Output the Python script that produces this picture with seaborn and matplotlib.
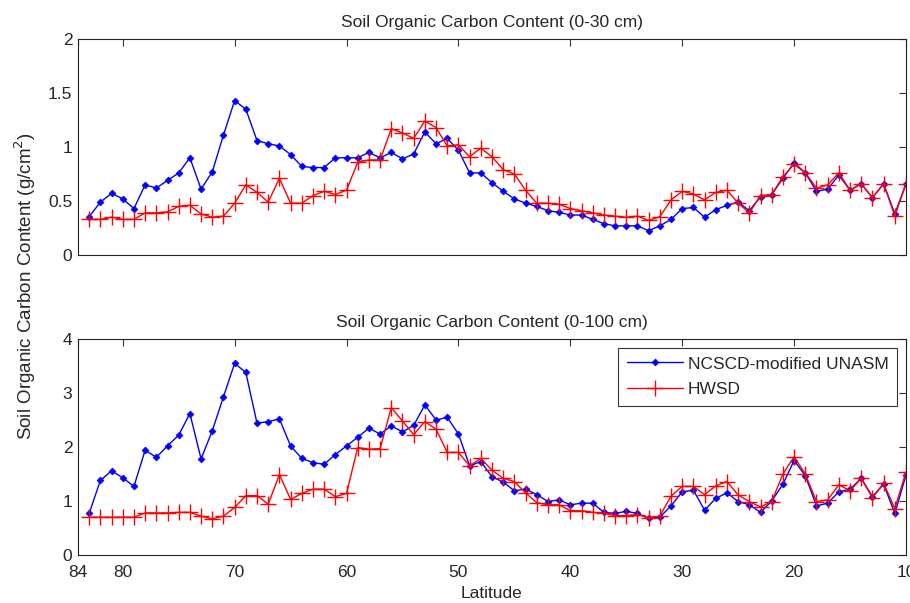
import numpy as np
import pandas as pd
import matplotlib
matplotlib.use("Agg")
import matplotlib.pyplot as plt
import seaborn as sns

latitude = list(range(83, 9, -1))

ncscd_30 = [0.355, 0.49, 0.57, 0.52, 0.43, 0.65, 0.62, 0.69, 0.76, 0.90,
            0.61, 0.77, 1.11, 1.43, 1.35, 1.06, 1.03, 1.01, 0.93, 0.82,
            0.81, 0.81, 0.90, 0.90, 0.90, 0.95, 0.90, 0.95, 0.89, 0.935,
            1.14, 1.03, 1.08, 0.97, 0.76, 0.76, 0.67, 0.59, 0.52, 0.48,
            0.45, 0.41, 0.395, 0.37, 0.37, 0.33, 0.29, 0.27, 0.27, 0.27,
            0.225, 0.27, 0.33, 0.43, 0.44, 0.35, 0.42, 0.46, 0.49, 0.41,
            0.54, 0.56, 0.71, 0.855, 0.76, 0.59, 0.61, 0.74, 0.60, 0.66,
            0.53, 0.66, 0.38, 0.66]
hwsd_30 = [0.33, 0.33, 0.35, 0.33, 0.33, 0.39, 0.39, 0.40, 0.45, 0.46,
           0.38, 0.35, 0.36, 0.48, 0.65, 0.58, 0.49, 0.71, 0.48, 0.48,
           0.55, 0.59, 0.56, 0.60, 0.86, 0.88, 0.88, 1.17, 1.13, 1.08,
           1.24, 1.18, 1.01, 1.02, 0.91, 0.99, 0.91, 0.79, 0.75, 0.60,
           0.48, 0.48, 0.47, 0.43, 0.41, 0.39, 0.37, 0.36, 0.35, 0.36,
           0.32, 0.355, 0.51, 0.59, 0.565, 0.51, 0.58, 0.60, 0.48, 0.39,
           0.55, 0.56, 0.725, 0.84, 0.76, 0.62, 0.65, 0.76, 0.60, 0.66,
           0.53, 0.66, 0.36, 0.66]
ncscd_100 = [0.77, 1.38, 1.56, 1.43, 1.27, 1.94, 1.81, 2.02, 2.22, 2.62,
             1.78, 2.30, 2.93, 3.55, 3.38, 2.44, 2.47, 2.52, 2.02, 1.79,
             1.71, 1.68, 1.86, 2.02, 2.18, 2.35, 2.24, 2.39, 2.28, 2.40,
             2.78, 2.50, 2.55, 2.24, 1.65, 1.73, 1.45, 1.35, 1.19, 1.22,
             1.12, 0.99, 1.02, 0.93, 0.96, 0.96, 0.79, 0.77, 0.81, 0.77,
             0.68, 0.70, 0.91, 1.17, 1.20, 0.83, 1.05, 1.15, 0.99, 0.93,
             0.79, 1.00, 1.31, 1.75, 1.47, 0.91, 0.96, 1.17, 1.22, 1.42,
             1.08, 1.31, 0.77, 1.48]
hwsd_100 = [0.70, 0.70, 0.70, 0.70, 0.70, 0.78, 0.78, 0.78, 0.79, 0.79,
            0.72, 0.67, 0.72, 0.88, 1.10, 1.10, 0.94, 1.49, 1.03, 1.14,
            1.22, 1.22, 1.08, 1.14, 1.99, 1.96, 1.97, 2.73, 2.48, 2.23,
            2.47, 2.33, 1.90, 1.90, 1.65, 1.79, 1.57, 1.42, 1.36, 1.15,
            0.97, 0.93, 0.93, 0.82, 0.82, 0.79, 0.77, 0.73, 0.73, 0.75,
            0.69, 0.72, 1.09, 1.27, 1.27, 1.12, 1.28, 1.36, 1.11, 0.99,
            0.89, 0.99, 1.50, 1.82, 1.50, 0.99, 1.02, 1.30, 1.19, 1.42,
            1.06, 1.33, 0.86, 1.54]

series_names = ["NCSCD-modified UNASM", "HWSD"]
titles = ["Soil Organic Carbon Content (0-30 cm)", "Soil Organic Carbon Content (0-100 cm)"]
x_ticks = [84, 80, 70, 60, 50, 40, 30, 20, 10]
x_tick_labels = ["84", "80", "70", "60", "50", "40", "30", "20", "10"]
y_ticks_top = [0, 0.5, 1, 1.5, 2]
y_tick_labels_top = ["0", "0.5", "1", "1.5", "2"]
y_ticks_bottom = [0, 1, 2, 3, 4]
y_tick_labels_bottom = ["0", "1", "2", "3", "4"]

FS = 12.5

sns.set_style("white")
plt.rcParams['font.family'] = ['Liberation Sans', 'DejaVu Sans']
plt.rcParams['xtick.direction'] = 'in'
plt.rcParams['ytick.direction'] = 'in'

fig = plt.figure(figsize=(9.1, 6.03), dpi=100)
ax1 = fig.add_axes([0.0857, 0.5771, 0.9099, 0.3582])
ax2 = fig.add_axes([0.0857, 0.0796, 0.9099, 0.3582])

styles = {
    series_names[0]: dict(color="#0000FF", marker="D", markersize=3.5, markeredgewidth=0.5),
    series_names[1]: dict(color="#FF0000", marker="+", markersize=11, markeredgewidth=1.0),
}

def draw(ax, blue, red, yticks, ylabels, title, xlabels, legend):
    df = pd.DataFrame({
        "Latitude": latitude * 2,
        "value": list(blue) + list(red),
        "series": [series_names[0]] * len(latitude) + [series_names[1]] * len(latitude),
    })
    for name in series_names:
        sub = df[df["series"] == name]
        st = styles[name]
        sns.lineplot(data=sub, x="Latitude", y="value", ax=ax, color=st["color"],
                     marker=st["marker"], markersize=st["markersize"],
                     markeredgewidth=st["markeredgewidth"], markeredgecolor=st["color"],
                     linewidth=1.0, label=name, sort=False)
    ax.set_xlim(84, 10)
    ax.set_ylim(yticks[0], yticks[-1])
    ax.set_xticks(x_ticks)
    ax.set_yticks(yticks)
    ax.set_yticklabels(ylabels, fontsize=FS)
    if xlabels:
        ax.set_xticklabels(x_tick_labels, fontsize=FS)
    else:
        ax.set_xticklabels([])
    ax.set_xlabel("")
    ax.set_ylabel("")
    ax.tick_params(axis='both', which='both', direction='in', top=True, right=True,
                   length=5, width=0.8, color='#333333', pad=4)
    ax.tick_params(axis='x', pad=7.5)
    for sp in ax.spines.values():
        sp.set_visible(True)
        sp.set_color('#222222')
        sp.set_linewidth(0.8)
    ax.set_title(title, fontsize=FS, pad=9)
    if legend:
        leg = ax.legend(loc="upper right", fontsize=FS, frameon=True, fancybox=False,
                        edgecolor='black', borderaxespad=0.5, handlelength=3.2,
                        handletextpad=0.3, borderpad=0.5, labelspacing=0.6)
        leg.get_frame().set_linewidth(0.8)
    else:
        lg = ax.get_legend()
        if lg is not None:
            lg.remove()

draw(ax1, ncscd_30, hwsd_30, y_ticks_top, y_tick_labels_top, titles[0], False, False)
draw(ax2, ncscd_100, hwsd_100, y_ticks_bottom, y_tick_labels_bottom, titles[1], True, True)

ax2.set_xlabel("Latitude", fontsize=FS, labelpad=4)
fig.text(0.028, 0.525, "Soil Organic Carbon Content (g/cm$^2$)", rotation=90,
         va="center", ha="center", fontsize=13.5)

fig.savefig("out.png", dpi=100)
